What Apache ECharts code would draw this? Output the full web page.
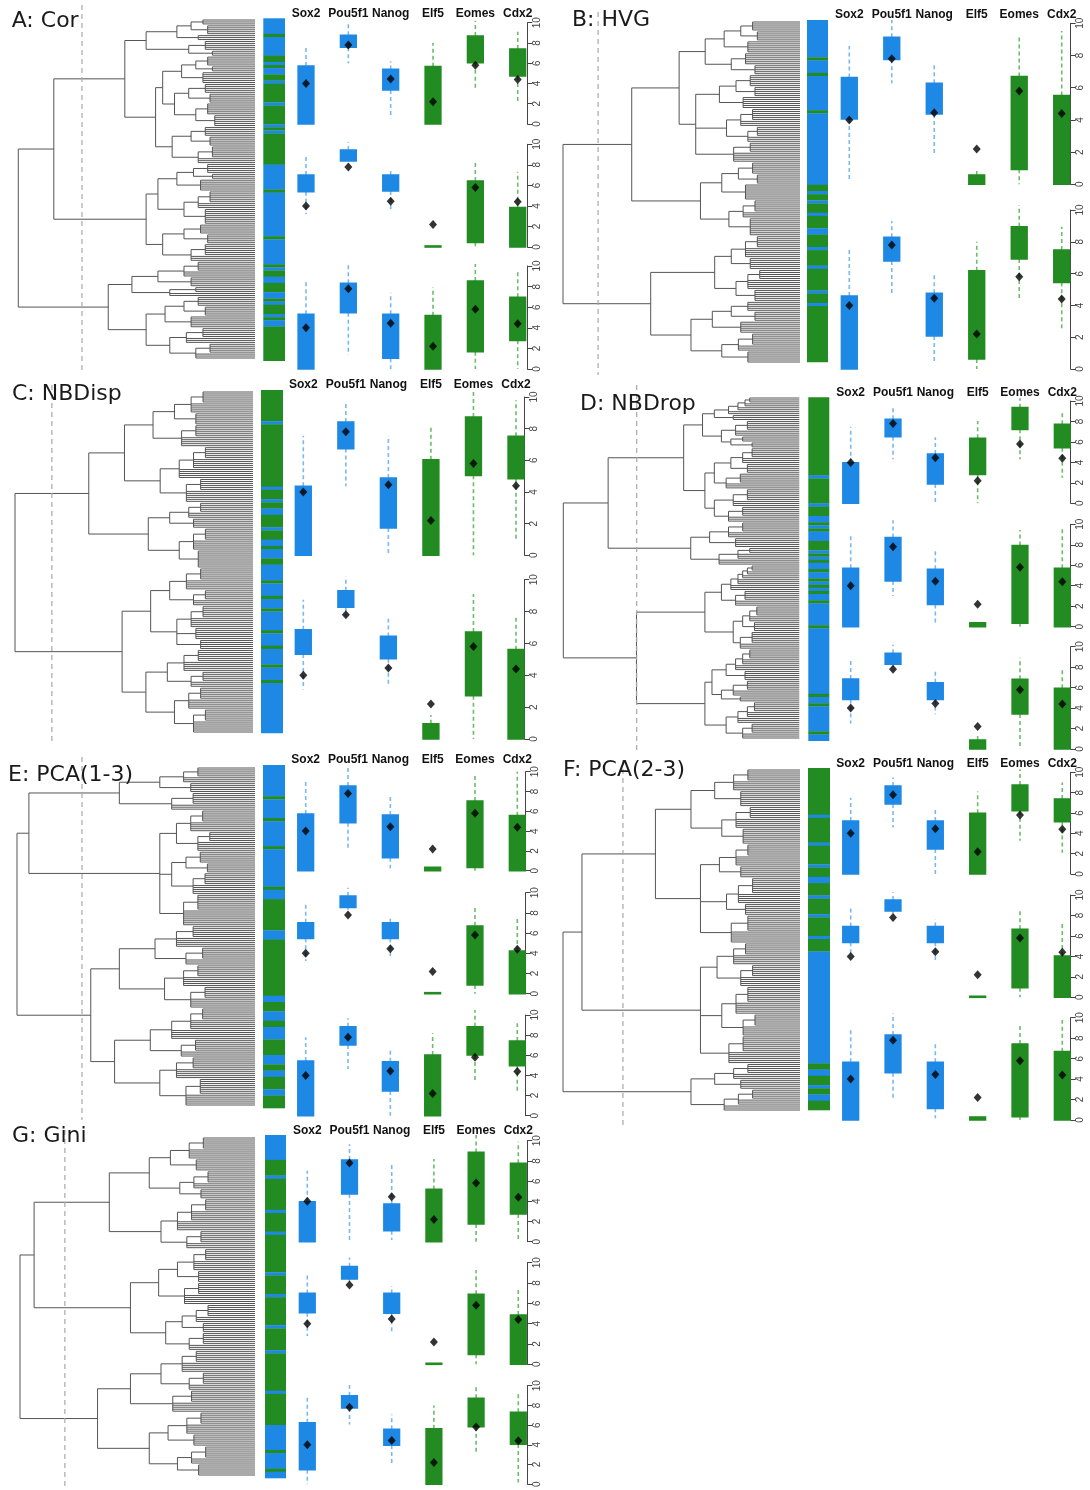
<!DOCTYPE html>
<html>
<head>
<meta charset="utf-8">
<script src="https://cdn.jsdelivr.net/npm/echarts@6/dist/echarts.min.js"></script>
<style>
  html, body { margin: 0; padding: 0; background: #fff; }
  #chart { width: 1090px; height: 1490px; }
</style>
</head>
<body>
<div id="chart"></div>
<script>
// ---------- data ----------
const genes = ['Sox2', 'Pou5f1', 'Nanog', 'Elf5', 'Eomes', 'Cdx2'];
// marker genes: first three ICM (blue), last three TE (green)
const geneGroup = [0, 0, 0, 1, 1, 1];
// overall mean expression of each gene (diamonds)
const geneMeans = [4.0, 7.8, 4.45, 2.2, 5.8, 4.4];
const yTicks = [0, 10, 2];           // min, max, step of the expression axis

const panelTitles = ['A: Cor', 'B: HVG', 'C: NBDisp', 'D: NBDrop', 'E: PCA(1-3)', 'F: PCA(2-3)', 'G: Gini'];
// height at which each dendrogram is cut (root = 100)
const cutHeights = [73.1, 85.2, 84.5, 68.9, 72.7, 74.7, 80.9];

// dendrograms: (height child child ...), a bare integer k = k leaves
const treeA = `(100
 (85
  (55
   (46 (33 (27 (22 3) (20 5)) (24 3)) (28 (21 5) (18 3)))
   (42 (39 (31 (25 (20 5) (18 3)) (22 6)) (34 (28 (21 5) (19 5)) (25 (20 6) (17 6))))
       (35 (27 (21 5) (19 5)) (24 (18 6) 3))))
  (46
   (41 (33 (26 (20 5) (18 3)) (23 6)) (30 (24 (19 6) 3) (21 8)))
   (39 (30 (23 5) (20 5)) (27 (21 6) 3))))
 (62
  (52 (41 (30 (24 5) 3) (27 5)) (36 (25 3) 2))
  (46 (38 (30 (24 5) (21 5)) (27 6)) (36 (29 (22 5) 3) (25 (19 5) 3)))))`;

const treeB = `(100
 (71
  (51 (40 (32 (25 (20 5) (18 5)) (22 6)) (29 (23 6) (19 5)))
      (44 (34 (27 (21 6) (19 5)) (24 6)) (31 (25 (20 6) 3) (22 (18 5) 3)) (28 (21 5) 5)))
  (42 (33 (26 (20 6) (18 5)) (23 8)) (30 (24 (19 6) 3) (21 9))))
 (63
  (36 (29 (23 (18 6) 5) (21 6)) (27 (22 (17 5) 5) (19 6)))
  (46 (37 (29 (22 5) (19 5)) (25 6)) (33 (26 (20 6) 3) (22 6)))))`;

const treeC = `(100
 (69
  (54 (42 (33 (26 (21 6) 5) (24 6)) (30 (24 6) 5)) (39 (31 (25 (20 6) 5) 5) (28 (22 6) 6)))
  (44 (35 (27 (22 5) 3) (25 5)) (31 (25 (20 6) 5) (23 9))))
 (55
  (43 (35 (28 (22 6) 5) (25 (20 5) 3)) (32 (26 (21 6) 5) (24 6) (22 5)))
  (45 (36 (29 (23 6) 5) (26 (21 5) 3)) (33 (27 (22 6) 5) (25 (20 6) 6)))))`;

const treeD = `(100
 (81
  (49
   (41 (36 (30 (26 (23 (21 3) 2) 2) 2) (28 3)) (33 (27 (22 5) 3) (29 (24 3) (20 3))))
   (40 (36 (29 (24 (20 5) 3) (22 5)) (31 (25 5) 3)) (36 (28 (22 6) 3) (30 (24 5) 3))))
  (46 (38 (30 (24 5) 3) (27 5)) (34 (26 (21 3) 3) 3)))
 (69
  (40 (33 (29 (26 (24 (22 (20 3) 2) 2) 3) 3) (27 (23 5) 3)) (28 (24 (21 (18 5) 3) (19 5)) (25 (20 6) 3)))
  (40 (37 (31 (27 (24 (21 5) 3) 3) (23 5)) (33 (28 (22 5) 3) (25 3))) (31 (26 (22 (19 5) 3) 3) (24 (20 5) 3)))))`;

const treeE = `(100
 (95
  (57 (40 (30 (24 5) 3) (27 5)) (35 (26 6) 3))
  (40 (33 (27 (22 6) 5) (24 (19 5) 5)) (35 (29 (23 6) (20 5)) (26 (21 6) 5)) (30 (24 8) 8)))
 (69
  (57 (42 (33 (26 6) 5) (29 (22 6) 3)) (38 (30 (24 6) 5) (27 (21 6) 5)))
  (59 (44 (35 (27 (22 6) 5) 5) (31 (25 6) 3)) (40 (33 (26 6) 5) (29 (23 8) 6)))))`;

const treeF = `(100
 (92
  (61 (46 (36 (28 (22 6) 5) (25 8)) (33 (27 (21 6) 5) (24 8)))
      (42 (34 (27 (22 6) 5) (25 6)) (31 (26 (20 8) 5) (23 6)) (29 (22 8) 6)))
  (42 (35 (28 (23 6) 5) (25 (20 6) 5)) (33 (27 (22 8) 6) (24 (19 6) 5)) (30 (24 8) 6)))
 (46 (36 (28 (22 5) 3) (25 5)) (32 (26 (20 5) 3) 3)))`;

const treeG = `(100
 (94
  (62 (45 (36 (28 (22 6) 5) (25 6)) (32 (26 (20 6) 3) (23 5))) (40 (33 (27 (21 6) 5) 5) (29 (23 6) 3)))
  (53 (41 (33 (26 (21 6) 5) (24 6)) (30 (24 6) 5)) (38 (31 (25 (20 6) 3) (22 5)) (28 (22 6) 3))))
 (67
  (53 (40 (31 (25 6) 5) (28 (22 6) 3)) (35 (27 6) 5))
  (45 (37 (29 (23 6) 5) (26 6)) (33 (27 (21 6) 3) (24 6)))))`;

// cell labels in leaf order, as runs: b = ICM-like (blue), g = TE-like (green)
const barA = 'b5 g1 b6 g2 b1 g1 b2 g2 b1 g6 b1 g6 b1 g1 b1 g10 b8 g1 b14 g1 b8 g1 b1 g2 b2 g3 b2 g1 b1 g3 b1 g1 b2 g11';
const barB = 'b12 g1 b4 g1 b11 g1 b23 g2 b1 g2 b1 g3 b1 g4 b2 g4 b1 g5 b1 g7 b1 g3 b1 g18';
const barC = 'g10 b1 g20 b1 g3 b1 g2 b2 g4 b1 g3 b2 g1 b3 g2 b5 g1 b4 g1 b3 g1 b6 g1 b4 g1 b5 g1 b4 g1 b16';
const barD = 'g25 b1 g8 b1 g3 b2 g1 b1 g1 b3 g3 b1 g1 b1 g1 b2 g1 b2 g1 b1 g1 b1 g1 b2 g1 b7 g1 b21 g1 b2 g1 b8 g1 b2';
const barE = 'b10 g1 b6 g1 b8 g1 b12 g1 b3 g10 b3 g18 b2 g3 b3 g2 b4 g5 b3 g2 b2 g4 b2 g4';
const barF = 'g15 b1 g8 b1 g6 b1 g3 b2 g4 b1 g5 b1 g6 b1 g4 b36 g2 b2 g3 b1 g2 b2 g3';
const barG = 'b8 g5 b1 g10 b1 g6 b1 g12 b1 g6 b1 g9 b1 g7 b1 g12 b1 g10 b8 g1 b5 g1 b2';

// boxplot statistics per cluster row: per gene [lower whisker, Q1, Q3, upper whisker]
const boxesA = [
  [[0, 0, 5.72, 7.53], [5.99, 7.57, 8.75, 10.0], [0.56, 3.36, 5.39, 6.2], [0, 0, 5.66, 8.0], [3.36, 6.05, 8.68, 10.2], [2.2, 4.74, 7.4, 9.1]],
  [[3.2, 5.39, 7.0, 8.8], [8.37, 8.37, 9.44, 10.2], [3.6, 5.45, 7.0, 7.66], [0, 0, 0.1, 0.1], [0, 0.45, 6.43, 8.47], [0, 0, 3.83, 7.33]],
  [[0, 0, 5.31, 8.64], [1.36, 5.47, 8.32, 10.2], [0, 1.04, 5.31, 7.41], [0, 0, 5.18, 7.93], [0, 1.68, 8.54, 10.2], [0, 2.78, 6.96, 9.6]]
];
const boxesB = [
  [[0.27, 4.06, 6.63, 8.59], [6.27, 7.76, 9.13, 10.2], [1.88, 4.37, 6.27, 7.41], [0, 0, 0.58, 0.93], [0, 0.93, 6.69, 9.21], [0, 0, 5.51, 9.52]],
  [[0, 0, 4.59, 7.48], [4.65, 6.79, 8.28, 9.31], [0.42, 2.08, 4.76, 6.06], [0, 0.63, 6.18, 8.0], [4.3, 6.92, 8.95, 10.3], [2.56, 5.45, 7.48, 8.95]]
];
const boxesC = [
  [[0, 0, 4.36, 7.56], [4.36, 6.74, 8.42, 9.56], [0.1, 1.73, 4.88, 7.56], [0, 0, 6.04, 8.1], [0, 5.05, 8.74, 10.36], [0.93, 4.84, 7.52, 9.79]],
  [[3.1, 5.33, 6.86, 8.74], [7.7, 8.28, 9.31, 10.2], [3.45, 5.04, 6.44, 7.55], [0, 0, 0.96, 1.5], [0, 2.72, 6.72, 9.1], [0, 0, 5.61, 7.7]]
];
const boxesD = [
  [[0, 0, 3.97, 7.49], [4.3, 6.51, 8.21, 9.51], [0, 1.89, 4.82, 6.45], [0, 2.83, 6.35, 8.05], [4.3, 7.23, 9.35, 10.26], [2.5, 5.44, 7.72, 9.02]],
  [[0, 0, 5.7, 8.86], [3.0, 4.46, 8.7, 10.4], [0.2, 2.18, 5.6, 7.59], [0, 0, 0.39, 0.39], [0, 0.33, 7.92, 9.45], [0, 0, 5.7, 9.77]],
  [[2.5, 4.85, 6.84, 8.76], [8.0, 8.3, 9.35, 10.2], [3.39, 4.85, 6.48, 7.62], [0, 0, 0.88, 1.5], [0, 3.42, 6.81, 8.92], [0, 0, 5.93, 7.79]]
];
const boxesE = [
  [[0, 0, 5.72, 9.06], [2.15, 4.85, 8.55, 10.67], [0.24, 1.31, 5.62, 7.74], [0, 0, 0.34, 0.34], [0, 0.34, 7.04, 9.66], [0, 0, 5.56, 10.0]],
  [[3.23, 5.48, 7.03, 8.88], [8.3, 8.55, 9.67, 10.5], [3.66, 5.48, 7.03, 7.72], [0, 0, 0.1, 0.1], [0, 0.86, 6.7, 8.61], [0, 0, 4.22, 7.52]],
  [[0, 0, 5.43, 7.78], [4.64, 7.02, 8.84, 9.67], [0, 2.45, 5.36, 6.59], [0, 0, 6.03, 8.18], [3.38, 6.03, 8.84, 10.5], [2.22, 4.97, 7.42, 9.17]]
];
const boxesF = [
  [[0, 0, 5.21, 7.5], [4.56, 6.89, 8.66, 9.5], [0, 2.46, 5.21, 6.46], [0, 0, 5.97, 8.1], [3.28, 6.23, 8.75, 10.3], [2.1, 5.15, 7.38, 9.0]],
  [[4.1, 5.37, 6.91, 8.7], [8.2, 8.44, 9.51, 10.26], [3.65, 5.37, 6.91, 7.62], [0, 0, 0.1, 0.1], [0, 0.94, 6.64, 8.44], [0, 0, 4.04, 7.39]],
  [[0, 0, 5.64, 8.8], [2.1, 4.63, 8.3, 10.4], [0.16, 1.14, 5.64, 7.56], [0, 0, 0.3, 0.3], [0, 0.33, 7.43, 9.38], [0, 0, 6.68, 9.77]]
];
const boxesG = [
  [[0, 0, 3.96, 7.03], [0, 4.72, 8.09, 9.64], [0.17, 1.09, 3.73, 7.69], [0, 0, 5.18, 8.18], [0, 1.75, 8.84, 10.56], [0, 2.74, 7.76, 9.9]],
  [[2.79, 5.08, 6.98, 8.89], [8.1, 8.39, 9.61, 10.5], [3.05, 5.02, 6.98, 7.7], [0, 0, 0.1, 0.1], [0, 0.98, 6.89, 9.28], [0, 0, 4.85, 7.31]],
  [[0, 1.47, 6.23, 8.9], [6.07, 7.73, 8.97, 10.07], [1.9, 3.97, 5.57, 7.07], [0, 0, 5.63, 8.0], [3.3, 5.83, 8.73, 10.13], [0.17, 4.07, 7.3, 9.17]]
];

const trees = [treeA, treeB, treeC, treeD, treeE, treeF, treeG];
const bars = [barA, barB, barC, barD, barE, barF, barG];
const boxes = [boxesA, boxesB, boxesC, boxesD, boxesE, boxesF, boxesG];

// ---------- page layout (pixels) ----------
const frames = [
  { title: [11.7, 23.7], dendro: [18.3, 255, 20, 358], cut: [5, 372], bar: [263.3, 285, 18.3, 360.7], centers: [306, 517.7], axisX: 527.3, rows: [[22.7, 124], [144.3, 247], [266, 369]], labelY: 12.7 },
  { title: [572, 22.5], dendro: [563, 800, 22, 362], cut: [12, 375], bar: [807, 828, 20, 362], centers: [849.3, 1061.7], axisX: 1070.7, rows: [[23.3, 184.3], [210, 369]], labelY: 14 },
  { title: [12, 396], dendro: [15, 253, 392, 732], cut: [385, 745], bar: [261, 283, 390, 733], centers: [303.3, 516], axisX: 524.3, rows: [[397, 555.3], [579.7, 739]], labelY: 384 },
  { title: [580, 406.7], dendro: [563.3, 799.3, 398, 738], cut: [385, 752], bar: [808.3, 829.3, 397.3, 740.7], centers: [850.7, 1062.3], axisX: 1070.7, rows: [[401, 503.3], [524.3, 626.7], [646.7, 749]], labelY: 391.7 },
  { title: [8, 777], dendro: [17, 255, 768, 1105], cut: [757, 1120], bar: [263, 285, 765, 1108], centers: [305.7, 517.3], axisX: 525.7, rows: [[771.7, 870.7], [892.7, 993.7], [1015, 1115.7]], labelY: 759.3 },
  { title: [563, 772], dendro: [563, 800, 770, 1110], cut: [760, 1125], bar: [808, 830, 768, 1110], centers: [850.7, 1062.3], axisX: 1070.7, rows: [[772.3, 874], [895, 997.3], [1017.7, 1120]], labelY: 762.7 },
  { title: [12, 1138], dendro: [20, 255, 1138, 1475], cut: [1130, 1490], bar: [265, 286, 1135, 1478], centers: [307.3, 518.3], axisX: 527.3, rows: [[1140.7, 1241.7], [1262.7, 1364.3], [1385.7, 1485.7]], labelY: 1130 }
];

const COLORS = ['#1e88e5', '#228b22'];
const WHISKER = ['#7ab8f2', '#6cbc6c'];
const TREE_COLOR = '#555';

// ---------- helpers ----------
function parseTree(src) {
  const tok = src.replace(/\(/g, ' ( ').replace(/\)/g, ' ) ').trim().split(/\s+/);
  let p = 0;
  function node() {
    p++; // '('
    const h = parseFloat(tok[p++]);
    const children = [];
    while (tok[p] !== ')') {
      if (tok[p] === '(') children.push(node());
      else { const k = parseInt(tok[p++], 10); for (let i = 0; i < k; i++) children.push(null); }
    }
    p++; // ')'
    return { h, children };
  }
  return node();
}

// leaves get consecutive positions; each node sits midway between its outer children
function treeSegments(root) {
  const segs = [];
  let leaf = 0;
  function place(n) {
    if (n === null) return { y: leaf++, h: 0 };
    const ch = n.children.map(place);
    const y0 = ch[0].y, y1 = ch[ch.length - 1].y;
    segs.push([n.h, y0, n.h, y1]);
    ch.forEach(c => segs.push([n.h, c.y, c.h, c.y]));
    return { y: (y0 + y1) / 2, h: n.h };
  }
  place(root);
  return { segs, leaves: leaf };
}

function parseRuns(src) {
  const runs = [];
  let pos = 0;
  src.trim().split(/\s+/).forEach(t => {
    const n = parseInt(t.slice(1), 10);
    runs.push([pos, pos + n, t[0] === 'b' ? 0 : 1]);
    pos += n;
  });
  return { runs, total: pos };
}

const option = {
  animation: false,
  backgroundColor: '#fff',
  title: [], grid: [], xAxis: [], yAxis: [], series: []
};

function addGrid(left, top, width, height) {
  option.grid.push({ left, top, width, height });
  return option.grid.length - 1;
}

function segItem(params, api) {
  const a = api.coord([api.value(0), api.value(1)]);
  const b = api.coord([api.value(2), api.value(3)]);
  return { type: 'line', shape: { x1: a[0], y1: a[1], x2: b[0], y2: b[1] },
           style: { stroke: TREE_COLOR, lineWidth: 1 } };
}

function barItem(params, api) {
  const a = api.coord([0, api.value(0)]);
  const b = api.coord([1, api.value(1)]);
  return { type: 'rect', shape: { x: a[0], y: a[1], width: b[0] - a[0], height: b[1] - a[1] + 0.3 },
           style: { fill: COLORS[api.value(2)] } };
}

function boxItem(params, api) {
  const g = api.value(0);
  const lo = api.coord([g, api.value(1)]);
  const q1 = api.coord([g, api.value(2)]);
  const q3 = api.coord([g, api.value(3)]);
  const hi = api.coord([g, api.value(4)]);
  const bw = api.size([1, 0])[0] * 0.37;
  const grp = geneGroup[g];
  const kids = [];
  const dash = { stroke: WHISKER[grp], lineWidth: 1.6, lineDash: [4, 3] };
  if (hi[1] < q3[1] - 0.5) kids.push({ type: 'line', shape: { x1: q3[0], y1: q3[1], x2: hi[0], y2: hi[1] }, style: dash });
  if (lo[1] > q1[1] + 0.5) kids.push({ type: 'line', shape: { x1: q1[0], y1: q1[1], x2: lo[0], y2: lo[1] }, style: dash });
  kids.push({ type: 'rect', shape: { x: q1[0] - bw / 2, y: q3[1], width: bw, height: q1[1] - q3[1] },
              style: { fill: COLORS[grp], stroke: COLORS[grp], lineWidth: 1.6 } });
  return { type: 'group', children: kids };
}

// ---------- build panels ----------
frames.forEach((f, i) => {
  // title
  option.title.push({
    text: panelTitles[i], left: f.title[0], top: f.title[1] - 13, padding: 0,
    textStyle: { fontFamily: 'DejaVu Sans', fontSize: 22, fontWeight: 'normal', color: '#1a1a1a' }
  });

  // dendrogram
  const t = treeSegments(parseTree(trees[i]));
  let gi = addGrid(f.dendro[0], f.dendro[2], f.dendro[1] - f.dendro[0], f.dendro[3] - f.dendro[2]);
  option.xAxis.push({ gridIndex: gi, type: 'value', min: 0, max: 100, inverse: true, show: false });
  option.yAxis.push({ gridIndex: gi, type: 'value', min: 0, max: t.leaves - 1, inverse: true, show: false });
  let ax = option.xAxis.length - 1;
  option.series.push({ type: 'custom', xAxisIndex: ax, yAxisIndex: ax, data: t.segs, renderItem: segItem, silent: true, clip: false });
  const cutSpan = f.cut;
  option.series.push({
    type: 'custom', xAxisIndex: ax, yAxisIndex: ax, data: [[cutHeights[i], 0]], silent: true, clip: false,
    renderItem: (params, api) => {
      const x = api.coord([api.value(0), 0])[0];
      return { type: 'line', shape: { x1: x, y1: cutSpan[0], x2: x, y2: cutSpan[1] },
               style: { stroke: '#a8a8a8', lineWidth: 1.2, lineDash: [5, 4] } };
    }
  });

  // cell-label colour bar
  const r = parseRuns(bars[i]);
  gi = addGrid(f.bar[0], f.bar[2], f.bar[1] - f.bar[0], f.bar[3] - f.bar[2]);
  option.xAxis.push({ gridIndex: gi, type: 'value', min: 0, max: 1, show: false });
  option.yAxis.push({ gridIndex: gi, type: 'value', min: 0, max: r.total, inverse: true, show: false });
  ax = option.xAxis.length - 1;
  option.series.push({ type: 'custom', xAxisIndex: ax, yAxisIndex: ax, data: r.runs, renderItem: barItem, silent: true });

  // boxplot rows
  const step = (f.centers[1] - f.centers[0]) / 5;
  const left = f.centers[0] - step / 2;
  const width = step * 6;
  f.rows.forEach((row, ri) => {
    gi = addGrid(left, row[0], width, row[1] - row[0]);
    option.xAxis.push({
      gridIndex: gi, type: 'category', data: genes, position: 'top', boundaryGap: true,
      axisLine: { show: false, onZero: false }, axisTick: { show: false }, splitLine: { show: false },
      axisLabel: { show: ri === 0, interval: 0, margin: row[0] - f.labelY - 6.5,
                   fontFamily: 'Liberation Sans', fontSize: 12, fontWeight: 'bold', color: '#111' }
    });
    option.yAxis.push({
      gridIndex: gi, type: 'value', min: yTicks[0], max: yTicks[1], interval: yTicks[2],
      position: 'right', offset: f.axisX - (left + width),
      splitLine: { show: false },
      axisLine: { show: true, lineStyle: { color: '#444', width: 1 } },
      axisTick: { show: true, length: 5, lineStyle: { color: '#444', width: 1 } },
      axisLabel: { rotate: 90, fontFamily: 'Liberation Sans', fontSize: 10, color: '#444', margin: 5 }
    });
    ax = option.xAxis.length - 1;
    option.series.push({
      type: 'custom', xAxisIndex: ax, yAxisIndex: ax, silent: true, clip: false,
      data: boxes[i][ri].map((b, g) => [g, b[0], b[1], b[2], b[3]]),
      renderItem: boxItem
    });
    option.series.push({
      type: 'scatter', xAxisIndex: ax, yAxisIndex: ax, silent: true,
      data: geneMeans.map((m, g) => [g, m]),
      symbol: 'diamond', symbolSize: [8, 9], itemStyle: { color: '#000' }, z: 5
    });
  });
});

const chart = echarts.init(document.getElementById('chart'), null, { renderer: 'canvas' });
chart.setOption(option);
</script>
</body>
</html>
